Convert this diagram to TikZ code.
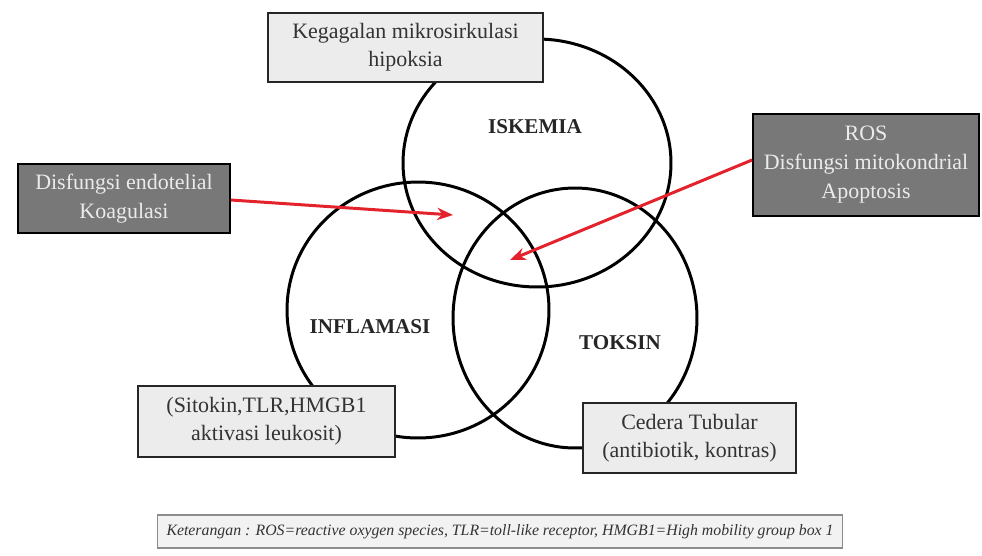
\documentclass[tikz,border=0pt]{standalone}
\usepackage{fontspec}
\setmainfont{Liberation Serif}
\usetikzlibrary{arrows.meta}
\definecolor{boxgray}{HTML}{ECECEC}
\definecolor{darkgray}{HTML}{787878}
\definecolor{arrowred}{HTML}{E3222B}
\tikzset{
  venn/.style={line width=1.7pt, black},
  setlabel/.style={font=\fontsize{12}{14}\selectfont\bfseries, text=black!85},
  lightbox/.style={draw=black!85, line width=1.1pt, fill=boxgray, align=center,
    inner sep=0pt, font=\fontsize{12.5}{16}\selectfont, text=black!80},
  darkbox/.style={draw=black, line width=1.1pt, fill=darkgray, align=center,
    inner sep=0pt, font=\fontsize{12.5}{16.5}\selectfont, text=white!92!black},
  redarrow/.style={-{Stealth[length=9pt,width=7pt]}, arrowred, line width=1.7pt},
}
\begin{document}
\begin{tikzpicture}[x=0.02cm, y=-0.02cm]
    \useasboundingbox (0,0) rectangle (982,555);

    % Three sets
    \draw[venn] (537,163) ellipse [x radius=2.68cm, y radius=2.48cm];
    \draw[venn] (418,310) ellipse [x radius=2.62cm, y radius=2.56cm];
    \draw[venn] (575,318) ellipse [x radius=2.44cm, y radius=2.6cm];

    \node[setlabel] (iskemia) at (535,127) {ISKEMIA};
    \node[setlabel] (inflamasi) at (370,327) {INFLAMASI};
    \node[setlabel] (toksin) at (620,343) {TOKSIN};

    % Boxes of causes
    \node[lightbox, minimum width=5.5cm, minimum height=1.38cm] (hipoksia) at (405.5,47.5)
        {Kegagalan mikrosirkulasi\\hipoksia};
    \node[darkbox, minimum width=4.24cm, minimum height=1.38cm] (endotel) at (124,198.5)
        {Disfungsi endotelial\\Koagulasi};
    \node[darkbox, minimum width=4.52cm, minimum height=2.04cm] (ros) at (866,165)
        {ROS\\Disfungsi mitokondrial\\Apoptosis};
    \node[lightbox, minimum width=5.14cm, minimum height=1.42cm] (sitokin) at (266.5,421.5)
        {(Sitokin,TLR,HMGB1\\aktivasi leukosit)};
    \node[lightbox, minimum width=4.26cm, minimum height=1.4cm] (tubular) at (689.5,438)
        {Cedera Tubular\\(antibiotik, kontras)};

    % Arrows into the overlaps
    \coordinate (tipA) at (453,215);
    \coordinate (tipB) at (510,260);
    \draw[redarrow] ([yshift=-0.03cm]endotel.east) -- (tipA);
    \draw[redarrow] ([yshift=0.1cm]ros.west) -- (tipB);

    % Legend
    \node[draw=black!45, line width=0.6pt, fill=boxgray!70, minimum width=13.7cm,
          minimum height=0.66cm, inner sep=0pt, font=\fontsize{9}{11}\selectfont\itshape,
          text=black!80] (legend) at (500,531.5)
        {Keterangan : ROS=reactive oxygen species, TLR=toll-like receptor, HMGB1=High mobility group box 1};
\end{tikzpicture}
\end{document}
